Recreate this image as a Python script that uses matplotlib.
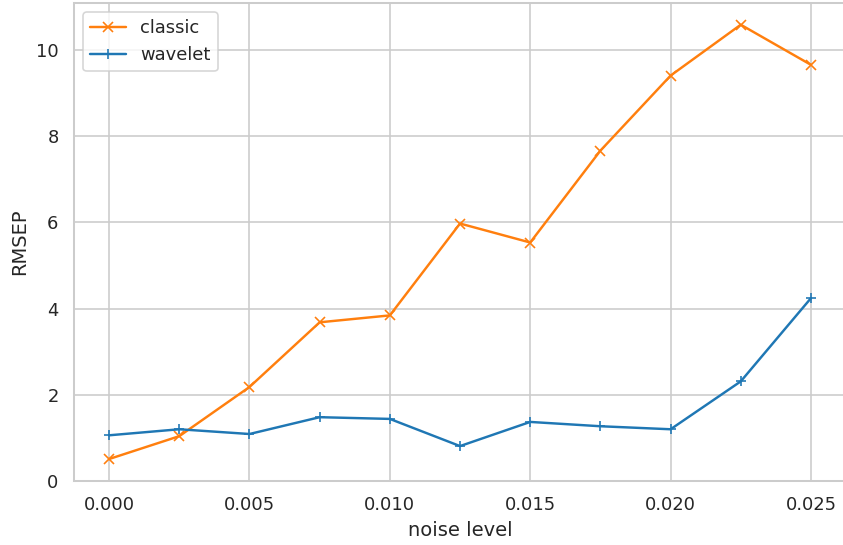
import numpy as np
import matplotlib
matplotlib.use("Agg")
import matplotlib.pyplot as plt
import seaborn as sns

sns.set_theme(style="whitegrid")

noise = [0.0, 0.0025, 0.005, 0.0075, 0.010, 0.0125, 0.015, 0.0175, 0.020, 0.0225, 0.025]
rmsep_classic = [0.51, 1.04, 2.18, 3.68, 3.84, 5.97, 5.53, 7.66, 9.40, 10.58, 9.65]
rmsep_wavelet = [1.06, 1.20, 1.09, 1.48, 1.44, 0.81, 1.37, 1.27, 1.20, 2.31, 4.24]

dpi = 117
fig = plt.figure(figsize=(843 / dpi, 545 / dpi), dpi=dpi)
ax = fig.add_axes([0.0878, 0.1174, 0.9158, 0.8771])
ax.plot(noise, rmsep_classic, marker="x", color="#ff7f0e", label="classic")
ax.plot(noise, rmsep_wavelet, marker="+", color="#1f77b4", label="wavelet")
ax.set_ylim(bottom=0)
ax.set_xticks([0.0, 0.005, 0.010, 0.015, 0.020, 0.025])
ax.set_xticklabels(["0.000", "0.005", "0.010", "0.015", "0.020", "0.025"])
ax.set_xlabel("noise level")
ax.set_ylabel("RMSEP")
ax.legend(loc="upper left")

fig.savefig("out.png", dpi=dpi)
